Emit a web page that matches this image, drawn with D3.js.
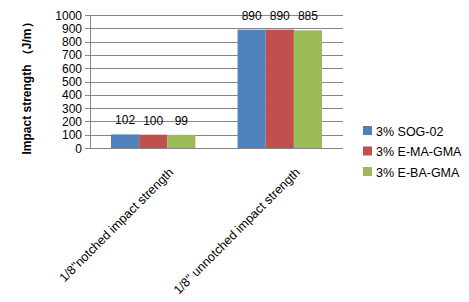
<!DOCTYPE html>
<html>
<head>
<meta charset="utf-8">
<script src="https://cdn.jsdelivr.net/npm/d3@7"></script>
<style>
  body { margin: 0; background: #fff; }
  text { font-family: "Liberation Sans", Arial, sans-serif; fill: #000; }
</style>
</head>
<body>
<div id="draw-space"></div>
<script>
const categories = ['1/8"notched impact strength', '1/8" unnotched impact strength'];
const seriesNames = ['3% SOG-02', '3% E-MA-GMA', '3% E-BA-GMA'];
const sog02 = [102, 890];
const emagma = [100, 890];
const ebagma = [99, 885];
const yTicks = [0, 100, 200, 300, 400, 500, 600, 700, 800, 900, 1000];
const colors = ['#4f81bd', '#c0504d', '#9bbb59'];

const series = [sog02, emagma, ebagma];

const svg = d3.select('#draw-space').append('svg')
              .attr('width', 469)
              .attr('height', 302);

const plotLeft = 90, plotRight = 343, plotTop = 15, plotBottom = 148;

const x0 = d3.scaleBand()
             .domain(categories)
             .range([plotLeft, plotRight])
             .paddingInner(0.333)
             .paddingOuter(0.166);

const x1 = d3.scaleBand()
             .domain(seriesNames)
             .range([0, x0.bandwidth()]);

const y = d3.scaleLinear()
            .domain([0, 1000])
            .range([plotBottom, plotTop]);

// gridlines
svg.selectAll('.grid')
   .data(yTicks)
   .enter()
   .append('line')
   .attr('x1', plotLeft - 5)
   .attr('x2', plotRight)
   .attr('y1', d => Math.round(y(d)) + 0.5)
   .attr('y2', d => Math.round(y(d)) + 0.5)
   .attr('stroke', '#868686')
   .attr('stroke-width', 1);

svg.append('line')
   .attr('x1', plotLeft + 0.5).attr('x2', plotLeft + 0.5)
   .attr('y1', plotTop).attr('y2', plotBottom)
   .attr('stroke', '#868686');

svg.selectAll('.ytick')
   .data(yTicks)
   .enter()
   .append('text')
   .attr('x', plotLeft - 8)
   .attr('y', d => y(d) + 4.5)
   .attr('text-anchor', 'end')
   .style('font-size', '12px')
   .text(d => d);

// bars
seriesNames.forEach((name, si) => {
  svg.selectAll('.bar-' + si)
     .data(categories)
     .enter()
     .append('rect')
     .attr('x', d => x0(d) + x1(name))
     .attr('y', (d, i) => y(series[si][i]))
     .attr('width', x1.bandwidth())
     .attr('height', (d, i) => plotBottom - y(series[si][i]))
     .attr('fill', colors[si]);

  svg.selectAll('.lab-' + si)
     .data(categories)
     .enter()
     .append('text')
     .attr('x', d => x0(d) + x1(name) + x1.bandwidth() / 2)
     .attr('y', (d, i) => y(series[si][i]) - 10)
     .attr('text-anchor', 'middle')
     .style('font-size', '12px')
     .text((d, i) => series[si][i]);
});

// x labels
svg.selectAll('.xlab')
   .data(categories)
   .enter()
   .append('text')
   .attr('text-anchor', 'end')
   .attr('transform', d => `translate(${x0(d) + x0.bandwidth() / 2 + 21},${plotBottom + 25}) rotate(-45)`)
   .style('font-size', '12.5px')
   .text(d => d);

// y title
svg.append('text')
   .attr('transform', `translate(31,${(plotTop + plotBottom) / 2 + 4}) rotate(-90)`)
   .attr('text-anchor', 'middle')
   .style('font-size', '12px')
   .style('font-weight', 'bold')
   .text('Impact strength （J/m）');

// legend
const legend = svg.selectAll('.legend')
                  .data(seriesNames)
                  .enter()
                  .append('g')
                  .attr('transform', (d, i) => `translate(363,${126 + i * 20.5})`);

legend.append('rect')
      .attr('width', 9).attr('height', 9)
      .attr('fill', (d, i) => colors[i]);

legend.append('text')
      .attr('x', 13)
      .attr('y', 9.5)
      .style('font-size', '12.5px')
      .text(d => d);
</script>
</body>
</html>
